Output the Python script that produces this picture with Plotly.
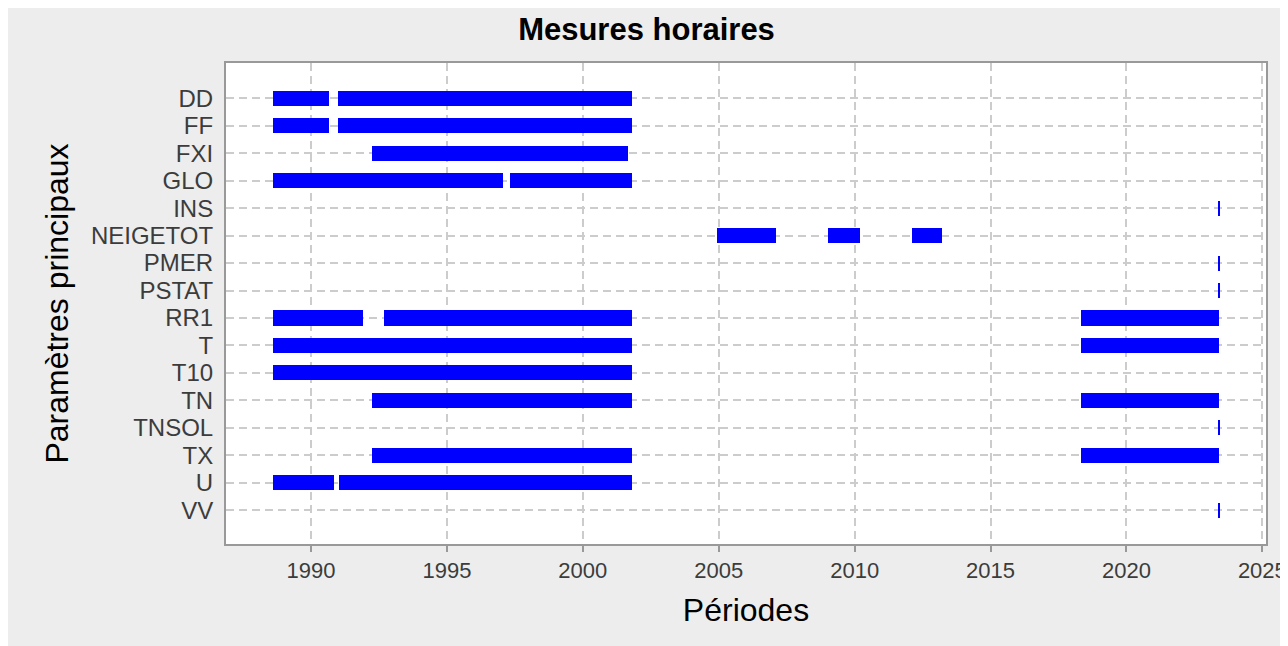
import pandas as pd
import plotly.graph_objects as go

# ---- data ----
params = ["DD", "FF", "FXI", "GLO", "INS", "NEIGETOT", "PMER", "PSTAT",
          "RR1", "T", "T10", "TN", "TNSOL", "TX", "U", "VV"]

seg_param = [
    "DD", "DD", "FF", "FF", "FXI", "GLO", "GLO", "INS",
    "NEIGETOT", "NEIGETOT", "NEIGETOT", "PMER", "PSTAT",
    "RR1", "RR1", "RR1", "T", "T", "T10", "TN", "TN", "TNSOL",
    "TX", "TX", "U", "U", "VV",
]
seg_start = [
    "1988-08-07", "1990-12-29", "1988-08-07", "1990-12-29", "1992-03-30",
    "1988-08-07", "1997-04-27", "2023-05-20",
    "2004-12-09", "2009-01-08", "2012-02-09", "2023-05-20", "2023-05-20",
    "1988-08-07", "1992-09-09", "2018-05-01", "1988-08-07", "2018-05-01",
    "1988-08-07", "1992-03-30", "2018-05-01", "2023-05-20",
    "1992-03-30", "2018-05-01", "1988-08-07", "1991-01-12", "2023-05-20",
]
seg_end = [
    "1990-08-29", "2001-10-23", "1990-08-29", "2001-10-23", "2001-08-29",
    "1997-01-24", "2001-10-23", "2023-06-03",
    "2007-02-09", "2010-03-14", "2013-03-21", "2023-06-03", "2023-06-03",
    "1991-11-28", "2001-10-23", "2023-05-30", "2001-10-23", "2023-05-30",
    "2001-10-23", "2001-10-23", "2023-05-30", "2023-06-03",
    "2001-10-23", "2023-05-30", "1990-11-06", "2001-10-23", "2023-06-03",
]
x_ticks = [str(y) for y in range(1990, 2026, 5)]

title_text = "Mesures horaires"
x_title = "Périodes"
y_title = "Paramètres principaux"

# ---- build ----
starts = pd.to_datetime(pd.Series(seg_start))
ends = pd.to_datetime(pd.Series(seg_end))
durations_ms = ((ends - starts).dt.total_seconds() * 1000).tolist()

FONT = "Liberation Sans, Arial, sans-serif"

fig = go.Figure()
fig.add_trace(go.Bar(
    orientation="h",
    y=seg_param,
    base=[s.strftime("%Y-%m-%d") for s in starts],
    x=durations_ms,
    width=0.55,
    marker=dict(color="#0000ff", line=dict(width=0)),
    showlegend=False,
    hoverinfo="skip",
))

W, H = 1280, 638
L, R, T, B = 218, 22, 55, 102

fig.update_layout(
    width=W, height=H,
    margin=dict(l=L, r=R, t=T, b=B, autoexpand=False),
    paper_bgcolor="#ededed",
    plot_bgcolor="white",
    font=dict(family=FONT, color="#3c3c3c"),
    title=dict(text="<b>" + title_text + "</b>", x=638.5 / W, xanchor="center",
               y=1 - 21 / H, yanchor="middle", yref="container",
               font=dict(size=31, color="black", family=FONT)),
    bargap=0,
)

fig.update_xaxes(
    type="date",
    automargin=False,
    range=["1986-11-15", "2025-02-19"],
    tickmode="array",
    tickvals=[f"{y}-01-01" for y in x_ticks],
    ticktext=x_ticks,
    ticks="outside", ticklen=6, tickwidth=2, tickcolor="#999999",
    tickfont=dict(size=22, color="#3c3c3c"),
    showgrid=True, gridcolor="#cccccc", gridwidth=1.5, griddash="8px,5px",
    showline=True, linecolor="#999999", linewidth=2, mirror=True,
    zeroline=False,
    title=dict(text=x_title, font=dict(size=32, color="black"), standoff=16),
)
fig.update_yaxes(
    type="category",
    automargin=False,
    categoryorder="array", categoryarray=params,
    tickmode="array", tickvals=params, ticktext=params,
    range=[16.23, -1.285],
    ticks="", ticklabelstandoff=6,
    tickfont=dict(size=24, color="#3c3c3c"),
    showgrid=True, gridcolor="#cccccc", gridwidth=1.5, griddash="8px,5px",
    showline=True, linecolor="#999999", linewidth=2, mirror=True,
    zeroline=False,
    title=dict(text=y_title, font=dict(size=32, color="black"), standoff=13),
)

fig.write_html("out.html")
